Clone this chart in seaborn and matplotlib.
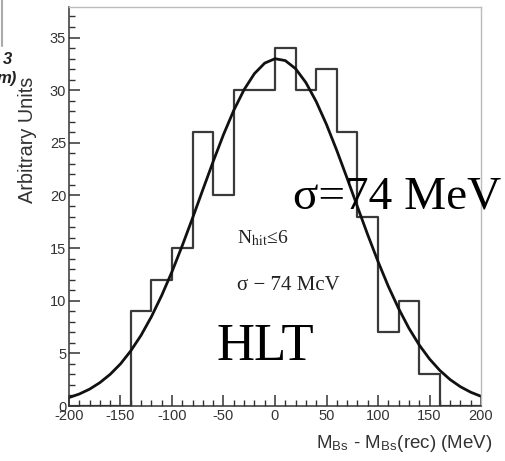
import numpy as np
import pandas as pd
import matplotlib
matplotlib.use("Agg")
import matplotlib.pyplot as plt
from matplotlib.lines import Line2D
from matplotlib.ticker import MultipleLocator
import seaborn as sns

# --- data ---
bin_edges = [-200, -180, -160, -140, -120, -100, -80, -60, -40, -20, 0, 20, 40, 60, 80, 100, 120, 140, 160, 180, 200]
bin_counts = [0, 0, 0, 9, 12, 15, 26, 20, 30, 30, 34, 30, 32, 26, 18, 7, 10, 3, 0, 0]

fit_x = [-200, -190, -180, -170, -160, -150, -140, -130, -120, -110, -100, -90, -80, -70, -60, -50, -40, -30, -20, -10,
         0, 10, 20, 30, 40, 50, 60, 70, 80, 90, 100, 110, 120, 130, 140, 150, 160, 170, 180, 190, 200]
fit_y = [0.80, 1.14, 1.60, 2.22, 3.01, 4.00, 5.24, 6.72, 8.48, 10.50, 12.76, 15.24, 17.86, 20.56, 23.23, 25.78, 28.09,
         30.05, 31.57, 32.57, 32.99, 32.81, 32.04, 30.72, 28.92, 26.74, 24.27, 21.64, 18.94, 16.27, 13.73, 11.37, 9.26,
         7.39, 5.80, 4.47, 3.38, 2.51, 1.83, 1.31, 0.92]

x_ticks = [-200, -150, -100, -50, 0, 50, 100, 150, 200]
y_ticks = [0, 5, 10, 15, 20, 25, 30, 35]

sns.set_theme(style="white")
plt.rcParams["font.family"] = ["Liberation Sans", "DejaVu Sans"]
plt.rcParams["mathtext.fontset"] = "stix"

fig = plt.figure(figsize=(5.05, 4.61), dpi=100)
ax = fig.add_axes([0.1366, 0.1193, 0.8159, 0.8655])

centers = [(a + b) / 2 for a, b in zip(bin_edges[:-1], bin_edges[1:])]
hist_df = pd.DataFrame({"x": centers, "w": bin_counts})
sns.histplot(data=hist_df, x="x", weights="w", bins=bin_edges, element="step", fill=False,
             color="#3a3a3a", linewidth=1.6, ax=ax)

fit_df = pd.DataFrame({"x": fit_x, "y": fit_y})
sns.lineplot(data=fit_df, x="x", y="y", color="#111111", linewidth=2.0, ax=ax)

ax.set_xlim(-200, 200)
ax.set_ylim(0, 37.9)
ax.set_xticks(x_ticks)
ax.set_xticklabels([str(v) for v in x_ticks])
ax.set_yticks(y_ticks)
ax.set_yticklabels([str(v) for v in y_ticks])
ax.xaxis.set_minor_locator(MultipleLocator(10))
ax.yaxis.set_minor_locator(MultipleLocator(1))
ax.tick_params(axis="both", which="major", direction="in", length=8, width=1.1, color="#333333",
               labelsize=10.5, labelcolor="#333333", pad=2)
ax.tick_params(axis="both", which="minor", direction="in", length=4, width=1.0, color="#333333")
ax.tick_params(axis="x", which="both", bottom=True, top=False)
ax.tick_params(axis="y", which="both", left=True, right=False)

for side in ["left", "bottom"]:
    ax.spines[side].set_color("#333333")
    ax.spines[side].set_linewidth(1.1)
for side in ["top", "right"]:
    ax.spines[side].set_color("#bbbbbb")
    ax.spines[side].set_linewidth(1.0)

ax.set_xlabel(r"M$_{\mathregular{Bs}}$ - M$_{\mathregular{Bs}}$(rec) (MeV)", fontsize=13.5, color="#333333")
ax.xaxis.set_label_coords(1.027, -0.093)
ax.xaxis.label.set_ha("right")
ax.xaxis.label.set_va("center")
ax.set_ylabel("Arbitrary Units", fontsize=14.3, color="#333333")
ax.yaxis.set_label_coords(-0.1, 0.825)
ax.yaxis.label.set_va("center")
ax.yaxis.label.set_ha("right")

serif = ["Liberation Serif", "DejaVu Serif"]
ax.text(17, 19.8, "σ=74 MeV", fontsize=34, family=serif, color="black", va="center", ha="left", clip_on=False)
ax.text(-57, 5.6, "HLT", fontsize=38, family=serif, color="black", va="center", ha="left")
ax.text(-37, 15.9, r"N$_{\mathrm{hit}}$≤6", fontsize=14, family=serif, color="#222222", va="center", ha="left")
ax.text(-37, 11.4, "σ − 74 McV", fontsize=15, family=serif, color="#222222", va="center", ha="left")

# cropped fragments at the top-left edge
fig.text(12 / 505, 1 - 59 / 461, "3", fontsize=12, weight="bold", style="italic", ha="right", va="center",
         color="#222222")
fig.text(17 / 505, 1 - 78 / 461, "m)", fontsize=12, weight="bold", style="italic", ha="right", va="center",
         color="#222222")
fig.add_artist(Line2D([1.5 / 505, 1.5 / 505], [1.0, 1 - 46 / 461], transform=fig.transFigure,
                      color="#aaaaaa", linewidth=1.5))

fig.savefig("out.png", dpi=100)
